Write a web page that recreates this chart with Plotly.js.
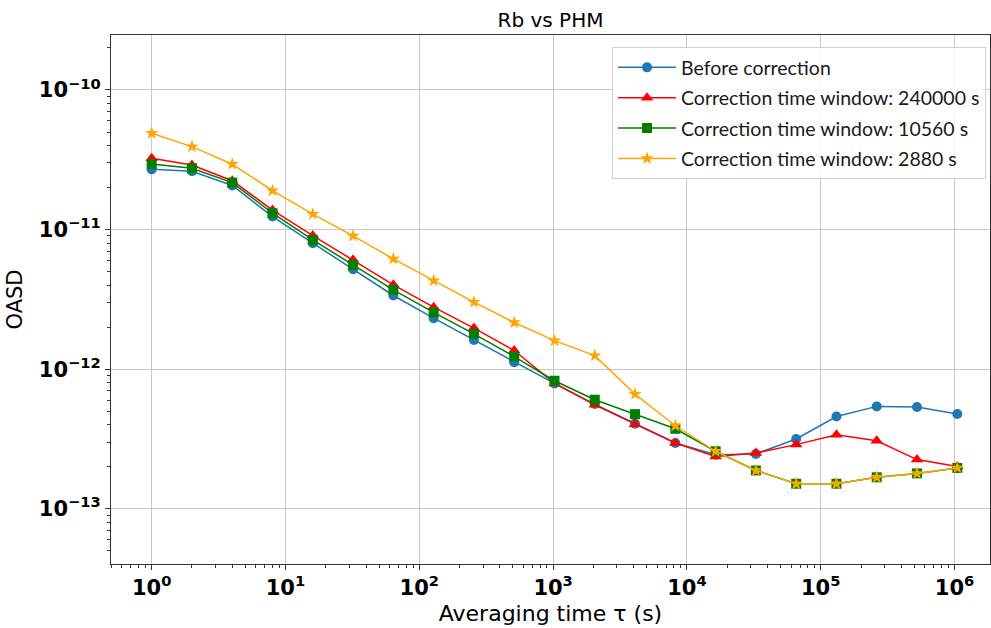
<!DOCTYPE html>
<html>
<head>
<meta charset="utf-8">
<script src="https://cdn.plot.ly/plotly-3.0.1.min.js"></script>
<style>html,body{margin:0;padding:0;background:#fff;}#chart{width:991px;height:628px;}</style>
</head>
<body>
<div id="chart"></div>
<script>
const tau = [1,2,4,8,16,32,64,128,256,512,1024,2048,4096,8192,16384,32768,65536,131072,262144,524288,1048576];

const beforeCorr = [2.70e-11,2.62e-11,2.07e-11,1.24e-11,8.0e-12,5.2e-12,3.37e-12,2.32e-12,1.62e-12,1.12e-12,7.9e-13,5.62e-13,4.06e-13,2.96e-13,2.44e-13,2.47e-13,3.16e-13,4.58e-13,5.41e-13,5.36e-13,4.77e-13];
const corr240000 = [3.24e-11,2.90e-11,2.24e-11,1.38e-11,9.06e-12,6.07e-12,4.02e-12,2.78e-12,1.97e-12,1.36e-12,7.9e-13,5.55e-13,4.03e-13,2.96e-13,2.37e-13,2.51e-13,2.88e-13,3.39e-13,3.07e-13,2.25e-13,2.01e-13];
const corr10560 = [2.95e-11,2.75e-11,2.17e-11,1.31e-11,8.43e-12,5.58e-12,3.70e-12,2.55e-12,1.79e-12,1.23e-12,8.26e-13,6.04e-13,4.76e-13,3.74e-13,2.58e-13,1.88e-13,1.51e-13,1.51e-13,1.68e-13,1.79e-13,1.96e-13];
const corr2880 = [4.90e-11,3.93e-11,2.94e-11,1.90e-11,1.29e-11,9.01e-12,6.17e-12,4.31e-12,3.02e-12,2.16e-12,1.60e-12,1.25e-12,6.63e-13,3.93e-13,2.58e-13,1.88e-13,1.51e-13,1.51e-13,1.68e-13,1.79e-13,1.96e-13];

const seriesNames = ["Before correction","Correction time window: 240000 s","Correction time window: 10560 s","Correction time window: 2880 s"];

const xTickVals = [1,10,100,1000,10000,100000,1000000];
const xTickText = ["10<sup>0</sup>","10<sup>1</sup>","10<sup>2</sup>","10<sup>3</sup>","10<sup>4</sup>","10<sup>5</sup>","10<sup>6</sup>"];
const yTickVals = [1e-13,1e-12,1e-11,1e-10];
const yTickText = ["10<sup>\u221213</sup>","10<sup>\u221212</sup>","10<sup>\u221211</sup>","10<sup>\u221210</sup>"];

function mk(y, name, color, symbol, size, grp) {
  return {
    x: tau, y: y, name: name, type: 'scatter', mode: 'lines+markers',
    legendgroup: grp,
    line: {color: color, width: 1.5},
    marker: {color: color, symbol: symbol, size: size}
  };
}
const data = [
  mk(beforeCorr, seriesNames[0], '#1f77b4', 'circle', 10, 'g1'),
  mk(corr240000, seriesNames[1], '#ff0000', 'triangle-up', 11, 'g2'),
  mk(corr10560, seriesNames[2], '#008000', 'square', 10, 'g3'),
  mk(corr2880, seriesNames[3], '#ffa500', 'star', 10, 'g4')
];

const axisCommon = {
  type: 'log', showline: true, linecolor: '#333', linewidth: 1, mirror: true,
  showgrid: true, gridcolor: '#c8c8c8', gridwidth: 1,
  ticks: 'outside', ticklen: 5, tickcolor: '#333', tickwidth: 1,
  tickmode: 'array', zeroline: false,
  tickfont: {family: 'DejaVu Sans', size: 21, color: '#000', weight: 'bold'},
  minor: {ticks: 'outside', ticklen: 3, tickcolor: '#333', showgrid: false, dtick: 'D1'}
};

const layout = {
  width: 991, height: 628,
  margin: {l: 111, r: 1, t: 35, b: 64},
  paper_bgcolor: '#fff', plot_bgcolor: '#fff',
  title: {text: 'Rb vs PHM', font: {family: 'DejaVu Sans', size: 20, color: '#000'}, x: 0.5, xref: 'paper', y: 0.968, yanchor: 'middle'},
  xaxis: Object.assign({}, axisCommon, {
    range: [-0.304, 6.265], tickvals: xTickVals, ticktext: xTickText,
    title: {text: 'Averaging time \u03c4 (s)', font: {family: 'DejaVu Sans', size: 22, color: '#000'}, standoff: 6}
  }),
  yaxis: Object.assign({}, axisCommon, {
    range: [-13.396, -9.606], tickvals: yTickVals, ticktext: yTickText,
    title: {text: 'OASD', font: {family: 'DejaVu Sans', size: 21, color: '#000'}, standoff: 10}
  }),
  showlegend: true,
  legend: {
    x: 0.570, y: 0.977, xanchor: 'left', yanchor: 'top',
    bgcolor: 'rgba(255,255,255,0.85)', bordercolor: '#d0d0d0', borderwidth: 1,
    font: {family: 'Lato', size: 19.5, color: '#1a1a1a'},
    itemwidth: 58, tracegroupgap: 2
  }
};

Plotly.newPlot('chart', data, layout, {displayModeBar: false, staticPlot: true});
</script>
</body>
</html>
